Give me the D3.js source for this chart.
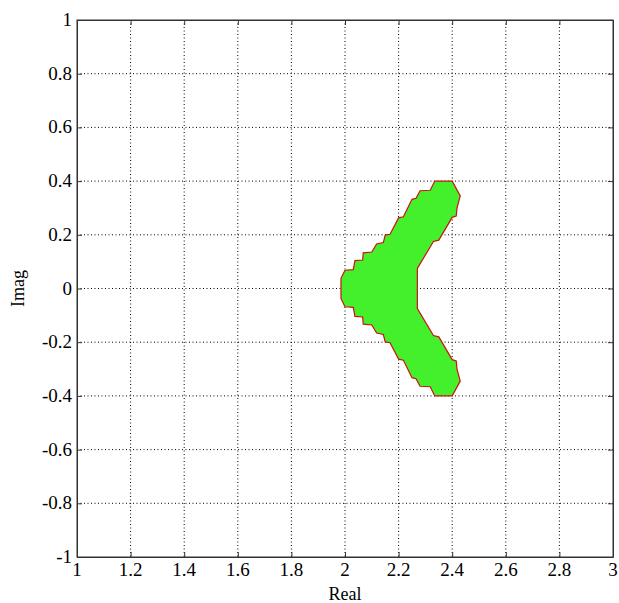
<!DOCTYPE html>
<html>
<head>
<meta charset="utf-8">
<script src="https://cdn.jsdelivr.net/npm/d3@7"></script>
<style>
  body { margin: 0; background: #fff; }
  .lbl { font-family: "Liberation Serif", "Times New Roman", serif; font-size: 19px; fill: #000; }
</style>
</head>
<body>
<svg id="chart" width="619" height="603"></svg>
<script>
// tick values for both axes
var xTicks = [1, 1.2, 1.4, 1.6, 1.8, 2, 2.2, 2.4, 2.6, 2.8, 3];
var yTicks = [-1, -0.8, -0.6, -0.4, -0.2, 0, 0.2, 0.4, 0.6, 0.8, 1];

// upper half of the region boundary (real, imag);
// the lower half is its mirror image
var upperReal = [2.27, 2.27, 2.33, 2.35, 2.40, 2.415, 2.418, 2.43, 2.40, 2.335, 2.318, 2.28, 2.265, 2.25, 2.218, 2.20, 2.168, 2.15, 2.143, 2.118, 2.10, 2.068, 2.066, 2.037, 2.031, 2.0, 1.985, 1.985];
var upperImag = [0, 0.075, 0.175, 0.18, 0.265, 0.27, 0.30, 0.345, 0.40, 0.40, 0.366, 0.364, 0.336, 0.332, 0.267, 0.263, 0.202, 0.199, 0.171, 0.166, 0.136, 0.133, 0.106, 0.104, 0.07, 0.068, 0.038, 0];

var svg = d3.select("#chart");
var margin = {left: 77, top: 20, right: 6, bottom: 46};
var W = 619 - margin.left - margin.right,
    H = 603 - margin.top - margin.bottom;

var x = d3.scaleLinear().domain([1, 3]).range([0, W]);
var y = d3.scaleLinear().domain([-1, 1]).range([H, 0]);

var g = svg.append("g").attr("transform", "translate(" + margin.left + "," + margin.top + ")");

// dotted grid
g.selectAll("line.gx").data(xTicks.slice(1, -1)).enter().append("line")
  .attr("x1", d => x(d)).attr("x2", d => x(d))
  .attr("y1", 0).attr("y2", H)
  .attr("stroke", "#000").attr("stroke-width", 1).attr("stroke-dasharray", "1,2.5");
g.selectAll("line.gy").data(yTicks.slice(1, -1)).enter().append("line")
  .attr("x1", 0).attr("x2", W)
  .attr("y1", d => y(d)).attr("y2", d => y(d))
  .attr("stroke", "#000").attr("stroke-width", 1).attr("stroke-dasharray", "1,2.5");

// build the closed polygon: upper half then mirrored lower half
var pts = upperReal.map((r, i) => [r, upperImag[i]]);
var lower = upperReal.map((r, i) => [r, -upperImag[i]]).reverse();
pts = pts.concat(lower.slice(1, -1));

g.append("path")
  .datum(pts)
  .attr("d", d3.line().x(d => x(d[0])).y(d => y(d[1])).curve(d3.curveLinearClosed))
  .attr("fill", "#44f02c")
  .attr("stroke", "#cc1111")
  .attr("stroke-width", 1.2);

// axes with inward ticks on all four sides (labels drawn separately below)
var tl = 5;
var axes = [
  g.append("g").attr("transform", "translate(0," + H + ")").call(d3.axisBottom(x).tickValues(xTicks).tickFormat("").tickSizeInner(-tl).tickSizeOuter(0)),
  g.append("g").call(d3.axisLeft(y).tickValues(yTicks).tickFormat("").tickSizeInner(-tl).tickSizeOuter(0)),
  g.append("g").call(d3.axisTop(x).tickValues(xTicks).tickFormat("").tickSizeInner(-tl).tickSizeOuter(0)),
  g.append("g").attr("transform", "translate(" + W + ",0)").call(d3.axisRight(y).tickValues(yTicks).tickFormat("").tickSizeInner(-tl).tickSizeOuter(0))
];
axes.forEach(a => {
  a.select(".domain").attr("stroke", "#333");
  a.selectAll(".tick line").attr("stroke", "#333");
});

// tick labels, plain hyphen for negatives like the original
g.selectAll("text.xl").data(xTicks).enter().append("text")
  .attr("class", "lbl")
  .attr("x", d => x(d)).attr("y", H + 19)
  .attr("text-anchor", "middle")
  .text(d => String(d));
g.selectAll("text.yl").data(yTicks).enter().append("text")
  .attr("class", "lbl")
  .attr("x", -5).attr("y", d => y(d) + 6)
  .attr("text-anchor", "end")
  .text(d => String(d));

// box
g.append("rect").attr("width", W).attr("height", H)
  .attr("fill", "none").attr("stroke", "#333").attr("stroke-width", 1);

// axis labels
svg.append("text").attr("class", "lbl").attr("x", margin.left + W / 2).attr("y", 600)
  .attr("text-anchor", "middle").style("font-size", "18px").text("Real");
svg.append("text").attr("class", "lbl").attr("transform", "translate(24," + (margin.top + H / 2) + ") rotate(-90)")
  .attr("text-anchor", "middle").style("font-size", "18px").text("Imag");
</script>
</body>
</html>
